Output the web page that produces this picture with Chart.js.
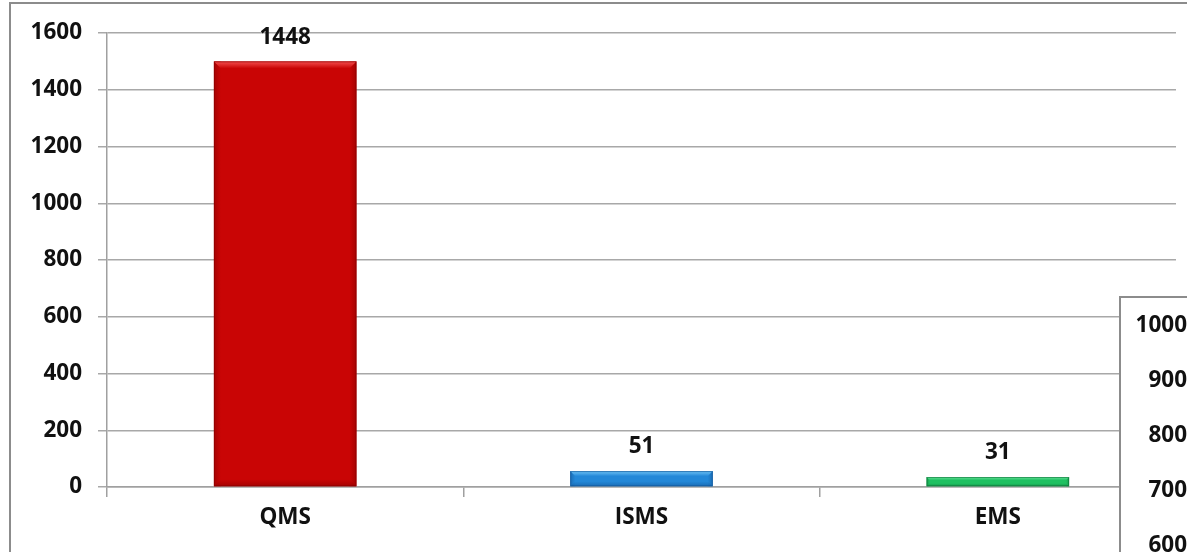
<!DOCTYPE html>
<html>
<head>
<meta charset="utf-8">
<script src="https://cdn.jsdelivr.net/npm/chart.js@4"></script>
<style>
  html, body { margin: 0; padding: 0; background: #fff; overflow: hidden; }
  #wrap { position: relative; width: 1187px; height: 552px; overflow: hidden; }
  #frame { position: absolute; left: 9px; top: 2px; width: 1300px; height: 700px;
           border-left: 2px solid #8c8c8c; border-top: 2px solid #8c8c8c; }
  #main { position: absolute; left: 0; top: 0; width: 1187px; height: 552px; }
  #inset { position: absolute; left: 1119px; top: 296px; width: 300px; height: 700px;
           background: #fff; border-left: 2px solid #8c8c8c; border-top: 2px solid #8c8c8c; }
  #inset-box { position: absolute; left: 0; top: 0; width: 200px; height: 600px; }
</style>
</head>
<body>
<div id="wrap">
  <div id="frame"></div>
  <div id="main"><canvas id="chart"></canvas></div>
  <div id="inset"><div id="inset-box"><canvas id="chart2"></canvas></div></div>
</div>
<script>
// Main chart data
const categories = ['QMS', 'ISMS', 'EMS'];
const barValues = [1500, 56, 35];          // bar heights as drawn
const valueLabels = ['1448', '51', '31'];  // data labels printed above bars
const yTicks = [0, 200, 400, 600, 800, 1000, 1200, 1400, 1600];

// Partly hidden second chart (bottom right)
const insetTicks = [600, 700, 800, 900, 1000];

// Bar colours: body, light bevel, dark edge
const barBody = ['#c90505', '#2388d8', '#1fc061'];
const barLight = ['#f55050', '#70c4f7', '#70e8a4'];
const barDark = ['#8a0000', '#14589a', '#0f7a3c'];

const FONT = "'Open Sans', Lato, sans-serif";
const FONT_SIZE = 22.5;

// Draws a simple bevel look on each bar, using the bar elements' own geometry
const bevelPlugin = {
  id: 'bevel',
  afterDatasetsDraw(chart) {
    const ctx = chart.ctx;
    const meta = chart.getDatasetMeta(0);
    meta.data.forEach((bar, i) => {
      const { x, y, base, width } = bar.getProps(['x', 'y', 'base', 'width'], true);
      const left = x - width / 2;
      const right = x + width / 2;
      const h = base - y;
      const b = Math.min(7, h / 3);
      ctx.save();
      // left / right shading
      let g = ctx.createLinearGradient(left, 0, left + b, 0);
      g.addColorStop(0, barDark[i]);
      g.addColorStop(1, barBody[i]);
      ctx.fillStyle = g;
      ctx.globalAlpha = 0.55;
      ctx.fillRect(left, y, b, h);
      g = ctx.createLinearGradient(right - b, 0, right, 0);
      g.addColorStop(0, barBody[i]);
      g.addColorStop(1, barDark[i]);
      ctx.fillStyle = g;
      ctx.fillRect(right - b, y, b, h);
      // bottom shading
      g = ctx.createLinearGradient(0, base - b, 0, base);
      g.addColorStop(0, barBody[i]);
      g.addColorStop(1, barDark[i]);
      ctx.fillStyle = g;
      ctx.beginPath();
      ctx.moveTo(left, base);
      ctx.lineTo(left + b, base - b);
      ctx.lineTo(right - b, base - b);
      ctx.lineTo(right, base);
      ctx.closePath();
      ctx.fill();
      // top highlight
      ctx.globalAlpha = 1;
      g = ctx.createLinearGradient(0, y, 0, y + b);
      g.addColorStop(0, barLight[i]);
      g.addColorStop(1, barBody[i]);
      ctx.fillStyle = g;
      ctx.beginPath();
      ctx.moveTo(left, y);
      ctx.lineTo(right, y);
      ctx.lineTo(right - b, y + b);
      ctx.lineTo(left + b, y + b);
      ctx.closePath();
      ctx.fill();
      // outline
      ctx.globalAlpha = 0.7;
      ctx.strokeStyle = barDark[i];
      ctx.lineWidth = 1;
      ctx.strokeRect(left + 0.5, y + 0.5, width - 1, h - 1);
      ctx.restore();
    });
  }
};

// Value labels above the bars
const labelPlugin = {
  id: 'valueLabels',
  afterDatasetsDraw(chart) {
    const ctx = chart.ctx;
    const meta = chart.getDatasetMeta(0);
    ctx.save();
    ctx.font = 'bold ' + FONT_SIZE + 'px ' + FONT;
    ctx.fillStyle = '#111';
    ctx.textAlign = 'center';
    ctx.textBaseline = 'bottom';
    meta.data.forEach((bar, i) => {
      ctx.fillText(valueLabels[i], bar.x, bar.y - 13);
    });
    ctx.restore();
  }
};

const tickFont = { family: FONT, size: FONT_SIZE, weight: 'bold' };

new Chart(document.getElementById('chart'), {
  type: 'bar',
  data: {
    labels: categories,
    datasets: [{
      data: barValues,
      backgroundColor: barBody,
      borderWidth: 0,
      barPercentage: 0.8,
      categoryPercentage: 0.5
    }]
  },
  options: {
    responsive: true,
    maintainAspectRatio: false,
    animation: false,
    layout: { padding: { top: 33, right: 11, left: 0, bottom: 0 } },
    plugins: { legend: { display: false }, tooltip: { enabled: false } },
    scales: {
      x: {
        offset: true,
        grid: { offset: true, drawOnChartArea: false, drawTicks: true, tickLength: 10, color: '#a0a0a0', lineWidth: 1.5 },
        border: { color: '#a0a0a0', width: 1.5 },
        ticks: { color: '#111', font: tickFont, padding: 7 },
        afterFit(scale) { scale.height = 65; }
      },
      y: {
        min: 0,
        max: 1600,
        afterBuildTicks(scale) { scale.ticks = yTicks.map(v => ({ value: v })); },
        grid: { color: '#a8a8a8', lineWidth: 1.5, tickLength: 9 },
        border: { color: '#a0a0a0', width: 1.5 },
        ticks: { color: '#111', font: tickFont, padding: 16, callback: v => String(v) },
        afterFit(scale) { scale.width = 107; }
      }
    }
  },
  plugins: [bevelPlugin, labelPlugin]
});

// Second chart, mostly off-screen: only its left axis labels show
new Chart(document.getElementById('chart2'), {
  type: 'bar',
  data: { labels: [''], datasets: [{ data: [0] }] },
  options: {
    responsive: true,
    maintainAspectRatio: false,
    animation: false,
    layout: { padding: { top: 28, right: 0, left: 0, bottom: 22 } },
    plugins: { legend: { display: false }, tooltip: { enabled: false } },
    scales: {
      x: { display: false },
      y: {
        min: 0,
        max: 1000,
        afterBuildTicks(scale) { scale.ticks = insetTicks.map(v => ({ value: v })); },
        grid: { display: false },
        border: { display: false },
        ticks: { color: '#111', font: tickFont, padding: 2, callback: v => String(v) },
        afterFit(scale) { scale.width = 76; }
      }
    }
  }
});
</script>
</body>
</html>
